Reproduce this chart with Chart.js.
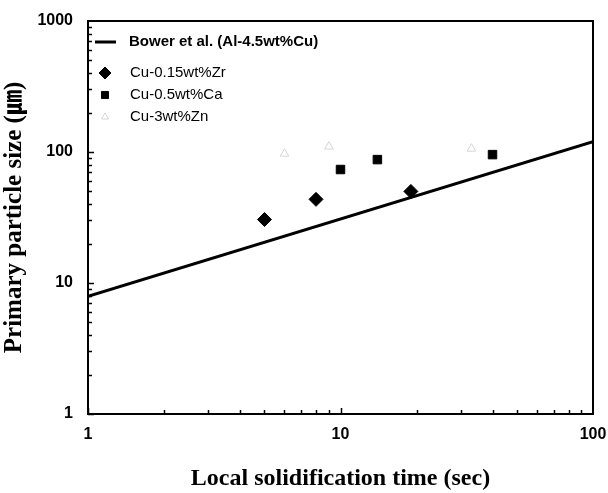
<!DOCTYPE html>
<html lang="en">
<head>
  <meta charset="UTF-8">
  <title>Primary particle size vs local solidification time</title>
  <script src="https://cdn.jsdelivr.net/npm/chart.js@4.4.1/dist/chart.umd.min.js"></script>
  <style>
    html, body { margin: 0; padding: 0; background: #fff; }
    #wrap { width: 608px; height: 493px; }
  </style>
</head>
<body>
  <div id="wrap"><canvas id="myChart" width="608" height="493"></canvas></div>
  <script>
    // data
    const bowerTime = [1, 100];
    const bowerSize = [7.9, 120];
    const zrTime = [5, 8, 19];
    const zrSize = [30.5, 43.5, 50];
    const caTime = [10, 14, 40];
    const caSize = [73.5, 87.5, 95.5];
    const znTime = [6, 9, 33];
    const znSize = [97, 110, 106];
    const xTicks = [1, 10, 100];
    const yTicks = [1, 10, 100, 1000];

    const pts = (xs, ys) => xs.map((x, i) => ({ x: x, y: ys[i] }));

    // frame + inside minor ticks + legend drawn in the plot
    const framePlugin = {
      id: 'frame',
      afterDraw(chart) {
        const ctx = chart.ctx, a = chart.chartArea;
        const xs = chart.scales.x, ys = chart.scales.y;
        ctx.save();
        ctx.strokeStyle = '#000';
        ctx.lineWidth = 2;
        ctx.strokeRect(a.left, a.top, a.right - a.left, a.bottom - a.top);
        ctx.lineWidth = 1.5;
        ctx.beginPath();
        [1, 10].forEach(d => {
          for (let k = 1; k <= 9; k++) {
            const len = k === 1 ? 6 : 4;
            const px = Math.round(xs.getPixelForValue(k * d)) + 0.5;
            ctx.moveTo(px, a.bottom);
            ctx.lineTo(px, a.bottom - len);
          }
        });
        [1, 10, 100].forEach(d => {
          for (let k = 1; k <= 9; k++) {
            const len = k === 1 ? 6 : 4;
            const py = Math.round(ys.getPixelForValue(k * d)) + 0.5;
            ctx.moveTo(a.left, py);
            ctx.lineTo(a.left + len, py);
          }
        });
        ctx.stroke();

        // legend
        const ds = chart.data.datasets;
        const lx = a.left + 17, tx = a.left + 41;
        const rows = [a.top + 21, a.top + 52, a.top + 74, a.top + 96];
        ctx.textBaseline = 'middle';
        ctx.strokeStyle = '#000';
        ctx.lineWidth = 3;
        ctx.beginPath();
        ctx.moveTo(a.left + 7, rows[0]);
        ctx.lineTo(a.left + 28, rows[0]);
        ctx.stroke();
        ctx.fillStyle = '#000';
        ctx.font = 'bold 15px "Liberation Sans", Arial, sans-serif';
        ctx.fillText(ds[0].label, tx, rows[0]);
        ctx.font = '15px "Liberation Sans", Arial, sans-serif';
        for (let i = 1; i < ds.length; i++) {
          const d = ds[i];
          ctx.fillStyle = d.backgroundColor;
          ctx.strokeStyle = d.borderColor;
          ctx.lineWidth = d.borderWidth;
          Chart.helpers.drawPoint(ctx, {
            pointStyle: d.pointStyle,
            radius: d.pointRadius - 1,
            rotation: 0,
            borderWidth: d.borderWidth
          }, lx, rows[i]);
          ctx.fillStyle = '#000';
          ctx.fillText(d.label, tx + 1, rows[i]);
        }
        ctx.restore();
      }
    };

    const ctx = document.getElementById('myChart').getContext('2d');
    new Chart(ctx, {
      type: 'scatter',
      data: {
        datasets: [
          {
            label: 'Bower et al. (Al-4.5wt%Cu)',
            data: pts(bowerTime, bowerSize),
            showLine: true,
            borderColor: '#000',
            borderWidth: 3,
            pointRadius: 0
          },
          {
            label: 'Cu-0.15wt%Zr',
            data: pts(zrTime, zrSize),
            pointStyle: 'rectRot',
            pointRadius: 7,
            backgroundColor: '#000',
            borderColor: '#000',
            borderWidth: 1
          },
          {
            label: 'Cu-0.5wt%Ca',
            data: pts(caTime, caSize),
            pointStyle: 'rect',
            pointRadius: 6,
            backgroundColor: '#000',
            borderColor: '#000',
            borderWidth: 1
          },
          {
            label: 'Cu-3wt%Zn',
            data: pts(znTime, znSize),
            pointStyle: 'triangle',
            pointRadius: 5,
            backgroundColor: 'rgba(0,0,0,0)',
            borderColor: '#d6d6d6',
            borderWidth: 1
          }
        ]
      },
      options: {
        responsive: false,
        animation: false,
        layout: { padding: { top: 21, right: 15, left: 0, bottom: 0 } },
        plugins: {
          legend: { display: false },
          tooltip: { enabled: false }
        },
        scales: {
          x: {
            type: 'logarithmic',
            min: 1,
            max: 100,
            afterBuildTicks: s => { s.ticks = xTicks.map(v => ({ value: v })); },
            afterFit: s => { s.height = 79; s.paddingLeft = 0; s.paddingRight = 0; },
            grid: { display: false, drawTicks: false },
            border: { display: false },
            ticks: {
              color: '#000',
              padding: 11,
              maxRotation: 0,
              font: { family: '"Liberation Sans Narrow", "Liberation Sans", sans-serif', size: 16, weight: 'bold' },
              callback: v => String(v)
            },
            title: {
              display: true,
              text: 'Local solidification time (sec)',
              color: '#000',
              font: { family: '"Liberation Serif", "Times New Roman", serif', size: 24, weight: 'bold' },
              padding: { top: 10, bottom: 0 }
            }
          },
          y: {
            type: 'logarithmic',
            min: 1,
            max: 1000,
            afterBuildTicks: s => { s.ticks = yTicks.map(v => ({ value: v })); },
            afterFit: s => { s.width = 88; s.paddingTop = 0; s.paddingBottom = 0; },
            grid: { display: false, drawTicks: false },
            border: { display: false },
            ticks: {
              color: '#000',
              padding: 15,
              font: { family: '"Liberation Sans Narrow", "Liberation Sans", sans-serif', size: 16, weight: 'bold' },
              callback: v => String(v)
            },
            title: {
              display: true,
              text: 'Primary particle size (㎛)',
              color: '#000',
              font: { family: '"Liberation Serif", "Times New Roman", "Noto Sans CJK KR", serif', size: 25, weight: 'bold' },
              padding: { top: 0, bottom: 4 }
            }
          }
        }
      },
      plugins: [framePlugin]
    });
  </script>
</body>
</html>
